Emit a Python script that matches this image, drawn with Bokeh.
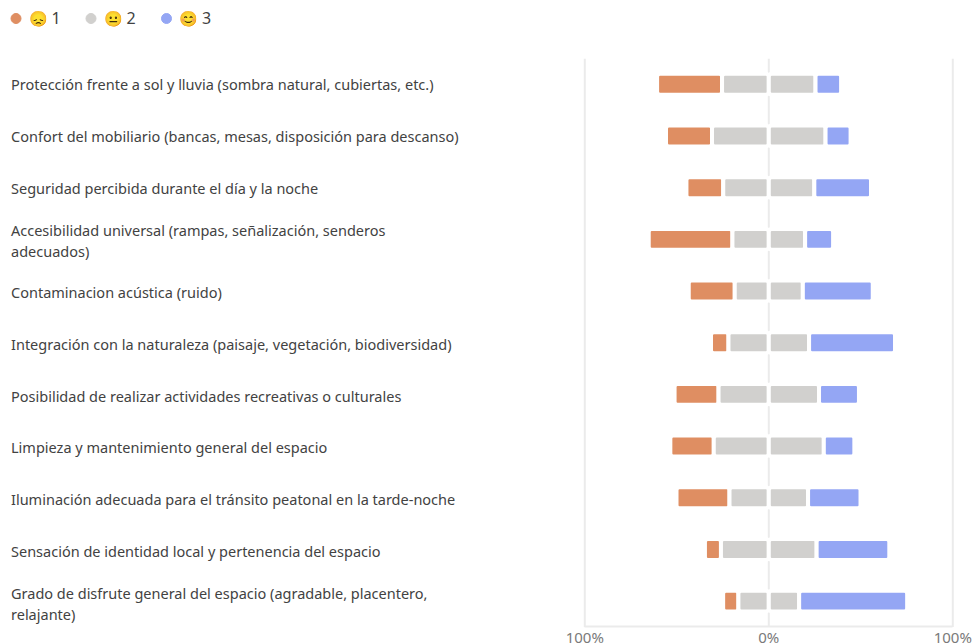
from bokeh.embed import file_html
from bokeh.resources import INLINE
from bokeh.plotting import figure
from bokeh.layouts import column, row
from bokeh.models import Label, Range1d, FixedTicker
from bokeh.core.properties import value

categories = [
    "Protección frente a sol y lluvia (sombra natural, cubiertas, etc.)",
    "Confort del mobiliario (bancas, mesas, disposición para descanso)",
    "Seguridad percibida durante el día y la noche",
    "Accesibilidad universal (rampas, señalización, senderos\nadecuados)",
    "Contaminacion acústica (ruido)",
    "Integración con la naturaleza (paisaje, vegetación, biodiversidad)",
    "Posibilidad de realizar actividades recreativas o culturales",
    "Limpieza y mantenimiento general del espacio",
    "Iluminación adecuada para el tránsito peatonal en la tarde-noche",
    "Sensación de identidad local y pertenencia del espacio",
    "Grado de disfrute general del espacio (agradable, placentero,\nrelajante)",
]
score_1 = [35.3, 25.0, 20.0, 45.5, 25.0, 9.5, 23.9, 23.6, 28.8, 8.7, 8.3]
score_2 = [50.8, 61.7, 49.5, 39.5, 37.0, 43.8, 54.6, 59.8, 42.7, 52.0, 33.0]
score_3 = [13.9, 13.6, 30.8, 15.2, 38.0, 46.7, 21.7, 16.6, 28.5, 39.5, 58.7]
legend_names = ["1", "2", "3"]
legend_emoji = ["😞", "😐", "😊"]
tick_values = [-100, 0, 100]
tick_labels = {-100: "100%", 0: "0%", 100: "100%"}

ORANGE, GRAY, BLUE = "#DF8E62", "#D1D0CE", "#94A6F4"
FONT = "Noto Sans"
TEXT = "#424242"
RULE = "#EBEBEB"

# legend strip
leg = figure(width=974, height=58, x_range=Range1d(0, 974), y_range=Range1d(58, 0),
             output_backend="svg", toolbar_location=None, min_border=0,
             outline_line_color=None)
leg.axis.visible = False
leg.grid.visible = False
for name, emo, col, dot_x in zip(legend_names, legend_emoji, [ORANGE, GRAY, BLUE], [15.5, 90.5, 166]):
    leg.scatter([dot_x], [18], size=10, color=col)
    leg.add_layout(Label(x=dot_x + 12.5, y=17, text=emo, text_font=FONT, text_font_size="15px",
                         text_baseline="middle", text_color=TEXT))
    leg.add_layout(Label(x=dot_x + 35.5, y=17, text=name, text_font=FONT, text_font_size="16px",
                         text_baseline="middle", text_color=TEXT))

rows = list(range(len(categories)))
last = len(categories) - 1

# category labels panel
lab = figure(width=560, height=586, x_range=Range1d(0, 560), y_range=Range1d(10.80, -0.5014),
             output_backend="svg", toolbar_location=None, min_border=0,
             outline_line_color=None)
lab.axis.visible = False
lab.grid.visible = False
lab.text(x=[10.5] * len(rows), y=rows, text=categories, text_font=value(FONT),
         text_font_size="14.5px", text_baseline="middle", text_color=TEXT, text_line_height=1.05)

# main chart: the frame runs to the page's edges, the axis sits at the last row's edge
p = figure(width=414, height=586, x_range=Range1d(-113.2, 111.8), y_range=Range1d(10.84, -0.5),
           output_backend="svg", toolbar_location=None, min_border=0,
           outline_line_color=None)
p.yaxis.visible = False
p.ygrid.visible = False
p.xgrid.visible = False
p.xaxis.fixed_location = last + 0.5
p.xaxis.bounds = (tick_values[0], tick_values[-1])
p.xaxis.ticker = FixedTicker(ticks=tick_values)
p.xaxis.major_label_overrides = tick_labels
p.xaxis.axis_line_color = RULE
p.xaxis.axis_line_width = 2
p.xaxis.major_tick_line_color = None
p.xaxis.minor_tick_line_color = None
p.xaxis.major_tick_out = 0
p.xaxis.major_tick_in = 0
p.xaxis.major_label_text_color = "#7A7A7A"
p.xaxis.major_label_text_font = FONT
p.xaxis.major_label_text_font_size = "15px"
p.xaxis.major_label_standoff = 0

p.segment(x0=tick_values, x1=tick_values, y0=[-0.5] * 3, y1=[last + 0.5] * 3,
          line_color=RULE, line_width=2)

neg_left = [-(a + b / 2) for a, b in zip(score_1, score_2)]
neu_left = [-b / 2 for b in score_2]
neu_right = [b / 2 for b in score_2]
pos_right = [b / 2 + c for b, c in zip(score_2, score_3)]
zero = [0] * len(rows)
for left, right, col in [(neg_left, neu_left, ORANGE), (neu_left, zero, GRAY),
                         (zero, neu_right, GRAY), (neu_right, pos_right, BLUE)]:
    p.hbar(y=rows, left=left, right=right, height=0.405, fill_color=col,
           line_color="white", line_width=4, border_radius=3)

open("out.html", "w").write(file_html(column(leg, row(lab, p, spacing=0), spacing=0), INLINE))
